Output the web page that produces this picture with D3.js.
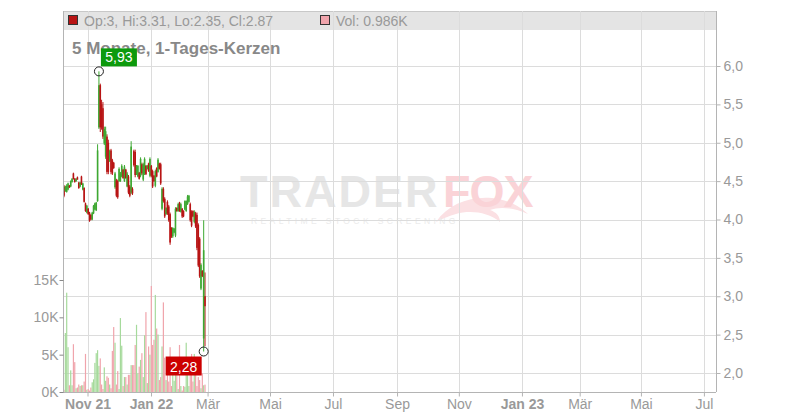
<!DOCTYPE html>
<html><head><meta charset="utf-8">
<script src="https://cdn.jsdelivr.net/npm/d3@7"></script>
<style>body{margin:0;background:#fff}svg{display:block}text{font-family:"Liberation Sans",Arial,sans-serif}</style>
</head><body><svg id="c" width="800" height="420"></svg>
<script>
// ---- data ----
const opens  = [4.43,4.37,4.36,4.39,4.44,4.43,4.49,4.60,4.53,4.50,4.55,4.48,4.43,4.56,4.39,4.41,4.21,4.09,4.14,4.09,4.06,4.00,4.08,4.13,4.12,4.24,5.20,5.75,5.50,5.45,4.99,4.82,5.08,5.00,4.76,4.90,4.77,4.74,4.42,4.51,4.50,4.50,4.50,4.56,4.65,4.50,4.65,4.43,4.56,4.43,4.35,4.40,4.89,4.88,4.59,4.56,4.61,4.57,4.72,4.52,4.60,4.70,4.66,4.73,4.57,4.70,4.63,4.57,4.44,4.67,4.62,4.73,4.72,4.14,4.40,4.27,4.07,4.23,4.17,4.07,3.89,3.78,3.83,3.79,4.15,4.11,4.21,4.10,4.14,4.11,4.13,4.11,4.20,4.23,4.20,4.10,4.11,3.97,4.08,4.06,3.93,3.75,3.10,3.33,2.45,3.00];
const highs  = [4.45,4.44,4.46,4.48,4.45,4.51,4.54,4.61,4.54,4.54,4.56,4.49,4.49,4.57,4.48,4.42,4.22,4.19,4.15,4.10,4.07,4.10,4.19,4.22,4.23,4.98,5.93,5.77,5.56,5.53,5.21,5.21,5.11,5.04,4.91,4.92,4.79,4.75,4.62,4.53,4.52,4.68,4.62,4.72,4.66,4.71,4.66,4.62,4.58,4.45,5.02,4.42,4.91,4.91,4.71,4.71,4.62,4.81,4.74,4.74,4.81,4.71,4.71,4.74,4.81,4.71,4.65,4.58,4.65,4.68,4.80,4.74,4.74,4.42,4.42,4.29,4.16,4.25,4.19,4.09,3.90,3.90,3.89,4.16,4.16,4.22,4.23,4.22,4.15,4.12,4.25,4.25,4.32,4.32,4.22,4.12,4.12,4.12,4.10,4.09,3.95,3.77,3.43,3.34,3.99,3.31];
const lows   = [4.29,4.36,4.35,4.38,4.41,4.42,4.48,4.52,4.48,4.49,4.52,4.40,4.42,4.45,4.38,4.22,4.10,4.08,4.06,3.97,3.99,3.99,4.07,4.12,4.11,4.23,5.18,5.14,5.17,5.05,4.97,4.79,4.59,4.59,4.75,4.59,4.58,4.66,4.40,4.29,4.27,4.49,4.49,4.55,4.53,4.49,4.53,4.42,4.33,4.29,4.33,4.32,4.69,4.55,4.58,4.55,4.52,4.55,4.58,4.50,4.58,4.58,4.65,4.62,4.55,4.55,4.41,4.49,4.42,4.55,4.61,4.65,4.45,4.12,4.22,4.02,4.06,4.06,3.97,3.67,3.76,3.76,3.82,3.77,4.10,4.10,4.10,4.09,4.02,4.03,4.12,4.10,4.19,4.22,3.97,3.90,4.03,3.95,3.89,3.60,3.38,3.24,3.08,3.25,2.28,2.35];
const closes = [4.31,4.43,4.44,4.47,4.42,4.50,4.53,4.53,4.49,4.53,4.52,4.41,4.48,4.46,4.47,4.23,4.11,4.18,4.07,3.98,4.00,4.09,4.18,4.21,4.22,4.90,5.75,5.20,5.20,5.08,5.18,5.15,4.62,4.62,4.89,4.62,4.60,4.67,4.60,4.31,4.29,4.66,4.60,4.70,4.54,4.69,4.54,4.60,4.35,4.31,4.95,4.34,4.71,4.58,4.70,4.70,4.53,4.79,4.60,4.72,4.79,4.59,4.70,4.63,4.79,4.57,4.43,4.50,4.63,4.56,4.78,4.66,4.47,4.40,4.24,4.04,4.15,4.08,3.99,3.70,3.78,3.89,3.88,4.14,4.11,4.20,4.11,4.20,4.04,4.04,4.24,4.24,4.30,4.31,3.99,3.92,4.04,4.10,3.91,3.63,3.40,3.26,3.41,3.26,3.60,2.87];
const volumesK = [0.3,7.9,13.3,6.0,0.9,2.9,0.9,6.4,4.0,0.5,0.6,1.0,0.8,0.9,0.9,1.4,5.1,0.3,0.4,0.2,0.6,1.3,1.7,3.9,5.2,5.6,3.5,4.5,1.0,0.4,3.3,1.5,2.1,1.9,1.0,0.5,5.5,8.7,6.6,1.0,2.8,0.4,9.9,6.2,0.8,2.0,2.0,1.0,2.3,2.3,3.6,3.6,3.6,6.3,9.0,2.5,3.4,4.3,5.2,2.0,7.6,10.7,1.2,6.1,5.0,14.2,6.3,7.0,13.0,8.5,7.7,1.6,2.0,6.1,12.0,4.6,1.6,4.1,1.4,6.0,0.8,3.8,1.5,2.7,3.0,0.4,6.3,0.8,0.2,0.8,0.7,6.6,3.3,0.8,4.1,5.1,1.4,5.1,4.2,0.8,2.0,1.6,0.5,2.5,0.9,0.986];
// month ticks: label and trading-day index
const monthLabels = ["Nov 21","Jan 22","Mär","Mai","Jul","Sep","Nov","Jan 23","Mär","Mai","Jul"];
const monthIndex  = [17.5,64.8,106.9,153.4,200.3,248,294,341,384,429.6,476.5];
const yearLabels  = ["Nov 21","Jan 22","Jan 23"];
const priceTicks  = [2.0,2.5,3.0,3.5,4.0,4.5,5.0,5.5,6.0];
const volTicks    = [0,5,10,15];
const titleText   = "5 Monate, 1-Tages-Kerzen";

const candles = opens.map((o,i)=>({i,o,h:highs[i],l:lows[i],c:closes[i],v:volumesK[i]}));

const svg = d3.select("#c");
const L=63, R=716, T=11, B=392;
const x = d3.scaleLinear().domain([-0.75,485.5]).range([L,R]);
const y = d3.scaleLinear().domain([2,6]).range([373,66]);
const yv = d3.scaleLinear().domain([0,15]).range([B,280]);
const GREEN="#3ea832", RED="#b81414";

// legend band
svg.append("rect").attr("x",L).attr("y",T).attr("width",R-L).attr("height",19).attr("fill","#e4e4e4");
svg.append("line").attr("x1",L).attr("x2",R).attr("y1",T+0.5).attr("y2",T+0.5).attr("stroke","#c8c8c8");

// watermark
const wm = svg.append("g");
wm.append("path").attr("d","M436,222 C448,204 470,196 492,198 C510,200 522,208 528,214 C515,208 500,206 490,210 C496,212 500,216 500,222 C488,212 470,210 456,214 C448,216 442,219 436,222 Z").attr("fill","#fbe0e3");
wm.append("text").attr("x",240).attr("y",207).attr("font-size",45).attr("font-weight","bold").attr("fill","#e6e6e6").attr("letter-spacing",2).text("TRADER");
wm.append("text").attr("x",443).attr("y",207).attr("font-size",45).attr("font-weight","bold").attr("fill","#fad3d7").attr("letter-spacing",-1).text("FOX");
wm.append("text").attr("x",251).attr("y",224).attr("font-size",8.5).attr("fill","#ebebeb").attr("letter-spacing",3.4).text("REALTIME STOCK SCREENING");

// grid
svg.append("g").selectAll("line").data(priceTicks).join("line")
  .attr("x1",L).attr("x2",R).attr("y1",d=>Math.round(y(d))+0.5).attr("y2",d=>Math.round(y(d))+0.5)
  .attr("stroke","#dcdcdc");
svg.append("g").selectAll("line").data(monthIndex).join("line")
  .attr("x1",d=>Math.round(x(d))+0.5).attr("x2",d=>Math.round(x(d))+0.5).attr("y1",T).attr("y2",B)
  .attr("stroke","#dcdcdc");

// volume bars
svg.append("g").selectAll("rect").data(candles).join("rect")
  .attr("x",d=>x(d.i)-0.6).attr("width",1.2)
  .attr("y",d=>yv(d.v)).attr("height",d=>B-yv(d.v))
  .attr("fill",d=>d.c>=d.o?"#a6da9c":"#f0a4ac");

// candles
const cg = svg.append("g");
cg.selectAll("line").data(candles).join("line")
  .attr("x1",d=>x(d.i)).attr("x2",d=>x(d.i)).attr("y1",d=>y(d.h)).attr("y2",d=>y(d.l))
  .attr("stroke",d=>d.c>=d.o?GREEN:RED).attr("stroke-width",1);
cg.selectAll("rect").data(candles).join("rect")
  .attr("x",d=>x(d.i)-0.8).attr("width",1.6)
  .attr("y",d=>y(Math.max(d.o,d.c))).attr("height",d=>Math.max(1,Math.abs(y(d.o)-y(d.c))))
  .attr("fill",d=>d.c>=d.o?GREEN:RED);

// axes frame
svg.append("line").attr("x1",L+0.5).attr("x2",L+0.5).attr("y1",T).attr("y2",B).attr("stroke","#b4b4b4");
svg.append("line").attr("x1",R+0.5).attr("x2",R+0.5).attr("y1",T).attr("y2",B).attr("stroke","#b4b4b4");
svg.append("line").attr("x1",L).attr("x2",R).attr("y1",B+0.5).attr("y2",B+0.5).attr("stroke","#b4b4b4");

// right price axis
const fmt = d=>d3.format(".1f")(d).replace(".",",");
const ra = svg.append("g").attr("transform",`translate(${R+0.5},0)`)
  .call(d3.axisRight(y).tickValues(priceTicks).tickFormat(fmt).tickSize(4).tickPadding(3));
ra.select(".domain").remove();
ra.selectAll("line").attr("stroke","#b4b4b4");
ra.selectAll("text").attr("fill","#999").attr("font-size",14).attr("font-family","Liberation Sans, Arial, sans-serif");

// left volume axis
const la = svg.append("g").attr("transform",`translate(${L+0.5},0)`)
  .call(d3.axisLeft(yv).tickValues(volTicks).tickFormat(d=>d+"K").tickSize(4).tickPadding(1));
la.select(".domain").remove();
la.selectAll("line").attr("stroke","#888");
la.selectAll("text").attr("fill","#999").attr("font-size",14).attr("font-family","Liberation Sans, Arial, sans-serif");

// bottom axis
const ba = svg.append("g").attr("transform",`translate(0,${B+0.5})`)
  .call(d3.axisBottom(x).tickValues(monthIndex).tickFormat((d,i)=>monthLabels[i]).tickSize(4).tickPadding(3));
ba.select(".domain").remove();
ba.selectAll("line").attr("stroke","#b4b4b4");
ba.selectAll("text").attr("fill","#999").attr("font-size",14).attr("font-family","Liberation Sans, Arial, sans-serif")
  .attr("font-weight",(d,i)=>yearLabels.includes(monthLabels[i])?"bold":"normal");

// legend
const last = candles[candles.length-1];
svg.append("rect").attr("x",68.5).attr("y",15.5).attr("width",9).attr("height",9).attr("fill",RED).attr("stroke","#333");
svg.append("text").attr("x",84).attr("y",26).attr("font-size",14).attr("fill","#999")
  .text(`Op:${last.o}, Hi:${last.h}, Lo:${last.l}, Cl:${last.c}`);
svg.append("rect").attr("x",320.5).attr("y",15.5).attr("width",9).attr("height",9).attr("fill","#f0a4ac").attr("stroke","#333");
svg.append("text").attr("x",336).attr("y",26).attr("font-size",14).attr("fill","#999").text(`Vol: ${last.v}K`);

// title
svg.append("text").attr("x",72).attr("y",54).attr("font-size",17).attr("font-weight","bold").attr("fill","#888").text(titleText);

// max / min markers
const hiC = candles.reduce((a,b)=>b.h>a.h?b:a);
const loC = candles.reduce((a,b)=>b.l<a.l?b:a);
const f2 = d=>d3.format(".2f")(d).replace(".",",");
svg.append("rect").attr("x",x(hiC.i)+2).attr("y",y(hiC.h)-23).attr("width",36).attr("height",18).attr("fill","#0d9a0d");
svg.append("text").attr("x",x(hiC.i)+20).attr("y",y(hiC.h)-9).attr("text-anchor","middle").attr("font-size",14).attr("fill","#fff").text(f2(hiC.h));
svg.append("circle").attr("cx",x(hiC.i)).attr("cy",y(hiC.h)).attr("r",4.5).attr("fill","none").attr("stroke","#222");
svg.append("rect").attr("x",x(loC.i)-38).attr("y",y(loC.l)+5).attr("width",36).attr("height",19).attr("fill","#cc0000");
svg.append("text").attr("x",x(loC.i)-20).attr("y",y(loC.l)+20).attr("text-anchor","middle").attr("font-size",14).attr("fill","#fff").text(f2(loC.l));
svg.append("circle").attr("cx",x(loC.i)).attr("cy",y(loC.l)).attr("r",4.5).attr("fill","none").attr("stroke","#222");
</script></body></html>
